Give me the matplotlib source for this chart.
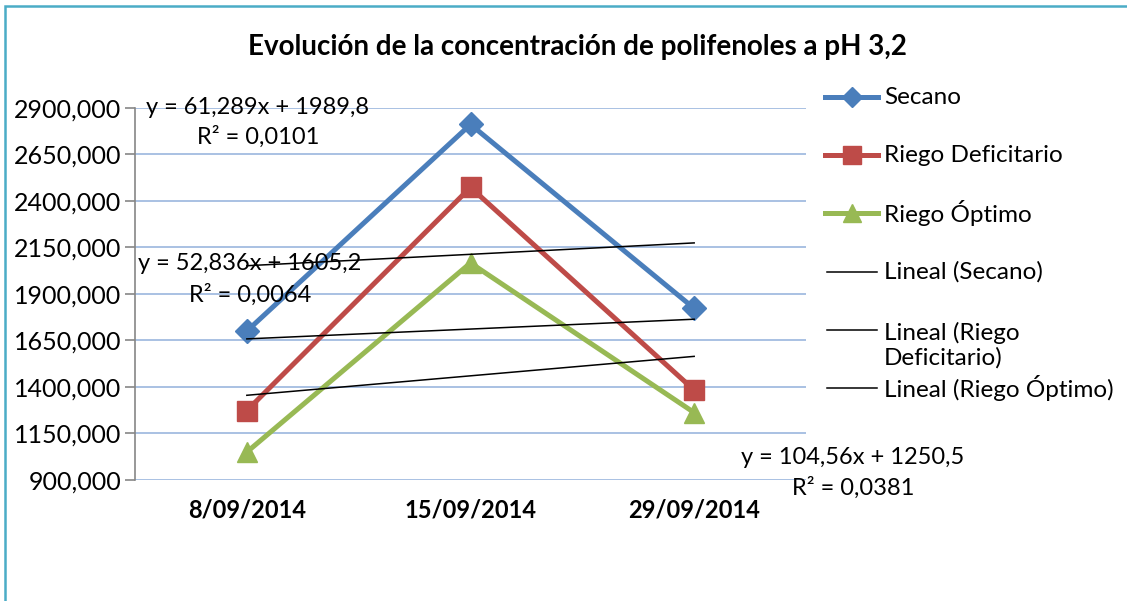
import matplotlib
matplotlib.use("Agg")
import matplotlib.pyplot as plt
from matplotlib.lines import Line2D
from matplotlib.patches import Rectangle

# data
fechas = ["8/09/2014", "15/09/2014", "29/09/2014"]
series = ["Secano", "Riego Deficitario", "Riego Óptimo"]
secano = [1700, 2810, 1822]
riego_deficitario = [1273, 2472, 1383]
riego_optimo = [1050, 2066, 1262]

# linear trendlines (Excel equations)
pendientes = [61.289, 52.836, 104.56]
ordenadas = [1989.8, 1605.2, 1250.5]
r2 = [0.0101, 0.0064, 0.0381]

y_ticks = [900, 1150, 1400, 1650, 1900, 2150, 2400, 2650, 2900]

colores = ["#4A7EBB", "#BE4B48", "#98B954"]
marcadores = ["D", "s", "^"]
msizes = [12, 15, 15]

plt.rcParams['font.family'] = ['Lato', 'DejaVu Sans']

W, H = 1127, 601
fig = plt.figure(figsize=(W / 100, H / 100), dpi=100)

def fx(px):
    return px / W

def fy(py):
    return 1 - py / H

# outer frame
fig.patches.append(Rectangle((fx(5), fy(H + 10)), fx(W + 10), fy(6) - fy(H + 10),
                             transform=fig.transFigure, fill=False,
                             edgecolor="#4BACC6", lw=1.8))

ax = fig.add_axes([fx(135), fy(480), fx(806) - fx(135), fy(107.7) - fy(480)])

x = [1, 2, 3]
valores = [secano, riego_deficitario, riego_optimo]

for yv in y_ticks:
    ax.axhline(yv, color="#A9C1E3", lw=1.4, zorder=0)

for vals, c, m, ms in zip(valores, colores, marcadores, msizes):
    ax.plot(x, vals, color=c, lw=3.6, marker=m, markersize=ms,
            markerfacecolor=c, markeredgecolor=c, zorder=3)

for a, b in zip(pendientes, ordenadas):
    ax.plot(x, [a * xi + b for xi in x], color="black", lw=1.1, zorder=4)

ax.set_xlim(0.5, 3.5)
ax.set_ylim(900, 2900)
ax.set_yticks(y_ticks)
ax.set_yticklabels([f"{v},000" for v in y_ticks], fontsize=18)
ax.set_xticks(x)
ax.set_xticklabels(fechas, fontsize=17, fontweight="bold")
ax.tick_params(axis="x", length=0, pad=13)
ax.tick_params(axis="y", length=7, width=1.2, color="#868686", pad=3)
for s in ["top", "right", "bottom"]:
    ax.spines[s].set_visible(False)
ax.spines["left"].set_color("#868686")
ax.spines["left"].set_linewidth(1.2)

# trendline equations
def eq_txt(a, b, r):
    return (f"y = {a:g}x + {b:g}".replace(".", ","),
            f"R² = {r:.4f}".replace(".", ","))

pos_eq = [((258, 107), (258, 137)), ((250, 263), (250, 295)), ((853, 457), (853, 488))]
for (a, b, r), (p1, p2) in zip(zip(pendientes, ordenadas, r2), pos_eq):
    t1, t2 = eq_txt(a, b, r)
    fig.text(fx(p1[0]), fy(p1[1]), t1, fontsize=17, ha="center", va="center", zorder=5)
    fig.text(fx(p2[0]), fy(p2[1]), t2, fontsize=17, ha="center", va="center", zorder=5)

fig.text(fx(577), fy(47), "Evolución de la concentración de polifenoles a pH 3,2",
         fontsize=20, fontweight="bold", ha="center", va="center")

# legend drawn by hand (Excel layout)
filas = [97, 155, 213, 272, 330, 388]
etiquetas = series + ["Lineal (" + s + ")" for s in series]
etiquetas[4] = "Lineal (Riego\nDeficitario)"
for i, (lab, yy) in enumerate(zip(etiquetas, filas)):
    if i < 3:
        ln = Line2D([fx(825), fx(878)], [fy(yy), fy(yy)], color=colores[i], lw=3.6,
                    transform=fig.transFigure)
        mk = Line2D([fx(851.5)], [fy(yy)], marker=marcadores[i], markersize=msizes[i] * 0.85,
                    color=colores[i], transform=fig.transFigure)
        fig.add_artist(ln)
        fig.add_artist(mk)
    else:
        fig.add_artist(Line2D([fx(827), fx(877)], [fy(yy), fy(yy)], color="black", lw=1.1,
                              transform=fig.transFigure))
    if "\n" in lab:
        fig.text(fx(884), fy(yy + 15), lab, fontsize=17.5, ha="left", va="center",
                 linespacing=1.2)
    else:
        fig.text(fx(884), fy(yy), lab, fontsize=17.5, ha="left", va="center")

fig.savefig("out.png", dpi=100)
